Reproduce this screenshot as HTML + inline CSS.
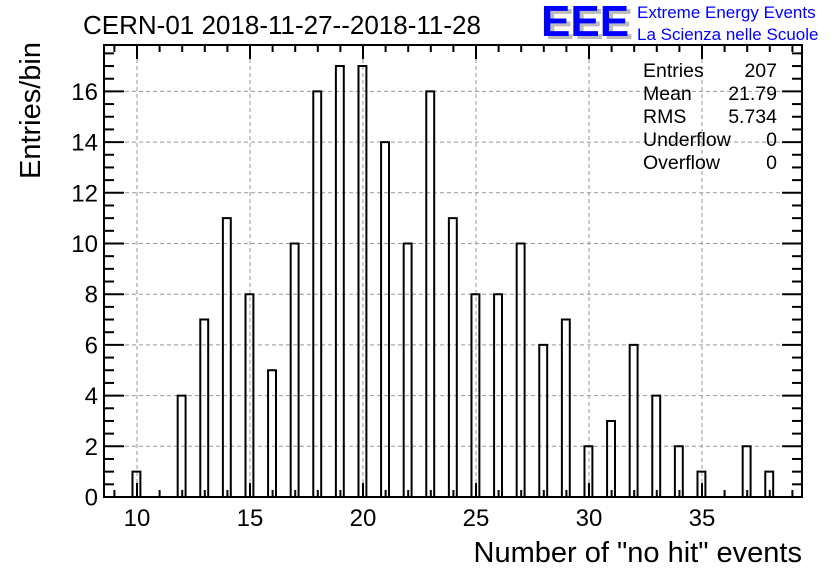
<!DOCTYPE html>
<html><head><meta charset="utf-8"><style>
html,body{margin:0;padding:0;background:#fff;}
svg{display:block;font-family:"Liberation Sans",sans-serif;}
</style></head><body>
<svg id="chart" width="836" height="572" viewBox="0 0 836 572">
<text x="83" y="34" font-size="26" fill="#000">CERN-01 2018-11-27--2018-11-28</text>
<g>
<text x="545" y="39" font-size="44" font-weight="bold" fill="#bbb">EEE</text>
<text x="541" y="36" font-size="44" font-weight="bold" fill="#0000ff">EEE</text>
<text x="637" y="18" font-size="17" fill="#0000ff">Extreme Energy Events</text>
<text x="637" y="40" font-size="17" fill="#0000ff">La Scienza nelle Scuole</text>
</g>
<g id="grid"></g>
<g id="bars"></g>
<g id="axes"></g>
<g font-size="19.5" fill="#000">
<text x="643" y="77">Entries</text><text x="777" y="77" text-anchor="end">207</text>
<text x="643" y="100">Mean</text><text x="777" y="100" text-anchor="end">21.79</text>
<text x="643" y="123">RMS</text><text x="777" y="123" text-anchor="end">5.734</text>
<text x="643" y="146">Underflow</text><text x="777" y="146" text-anchor="end">0</text>
<text x="643" y="169">Overflow</text><text x="777" y="169" text-anchor="end">0</text>
</g>
<text x="802" y="562" font-size="29" text-anchor="end">Number of "no hit" events</text>
<text transform="translate(40,42) rotate(-90)" font-size="29" text-anchor="end">Entries/bin</text>
</svg>
<script>
const categories = [10,12,13,14,15,16,17,18,19,20,21,22,23,24,25,26,27,28,29,30,31,32,33,34,35,37,38];
const counts = [1,4,7,11,8,5,10,16,17,17,14,10,16,11,8,8,10,6,7,2,3,6,4,2,1,2,1];
const xTickLabels = [10,15,20,25,30,35];
const yTickLabels = [0,2,4,6,8,10,12,14,16];

const L=104, R=802, T=45, B=497;
const xs = v => 137 + (v-10)*22.6;
const ys = v => B - v*25.35;
const NS="http://www.w3.org/2000/svg";
function mk(tag, attrs, parent){const e=document.createElementNS(NS,tag);for(const k in attrs)e.setAttribute(k,attrs[k]);parent.appendChild(e);return e;}
const grid=document.getElementById('grid'), bars=document.getElementById('bars'), axes=document.getElementById('axes');

xTickLabels.forEach(v=>{
  const g=mk('line',{x1:xs(v),x2:xs(v),y1:T,y2:B,stroke:'#999','stroke-dasharray':'4,3','stroke-width':1},grid);
  
  
});
yTickLabels.forEach(v=>{
  if(v===0) return;
  const g=mk('line',{x1:L,x2:R,y1:ys(v),y2:ys(v),stroke:'#999','stroke-dasharray':'4,3','stroke-width':1},grid);
  
  
});

categories.forEach((c,i)=>{
  const x0=xs(c-0.2), x1=xs(c+0.15), y=ys(counts[i]);
  const p=mk('path',{d:`M${x0},${B} L${x0},${y} L${x1},${y} L${x1},${B}`,fill:'none',stroke:'#000','stroke-width':2},bars);
  
  
});

const frame=mk('rect',{x:L,y:T,width:R-L,height:B-T,fill:'none',stroke:'#000','stroke-width':2},axes);



for(let v=9;v<=39;v++){
  const major=v%5===0, len=major?14:7;
  mk('line',{x1:xs(v),x2:xs(v),y1:B,y2:B-len,stroke:'#000','stroke-width':2},axes);
  mk('line',{x1:xs(v),x2:xs(v),y1:T,y2:T+len,stroke:'#000','stroke-width':2},axes);
}
for(let k=0;k<=35;k++){
  const v=k*0.5, major=(k%4===0), len=major?20:10;
  if(ys(v)<T) break;
  mk('line',{x1:L,x2:L+len,y1:ys(v),y2:ys(v),stroke:'#000','stroke-width':2},axes);
  mk('line',{x1:R,x2:R-len,y1:ys(v),y2:ys(v),stroke:'#000','stroke-width':2},axes);
}
xTickLabels.forEach(v=>{
  const t=mk('text',{x:xs(v),y:526,'font-size':24,'text-anchor':'middle'},axes);
  t.textContent=v;
  
  
});
yTickLabels.forEach(v=>{
  const t=mk('text',{x:98,y:ys(v)+8.5,'font-size':24,'text-anchor':'end'},axes);
  t.textContent=v;
  
  
});
</script>
</body></html>
